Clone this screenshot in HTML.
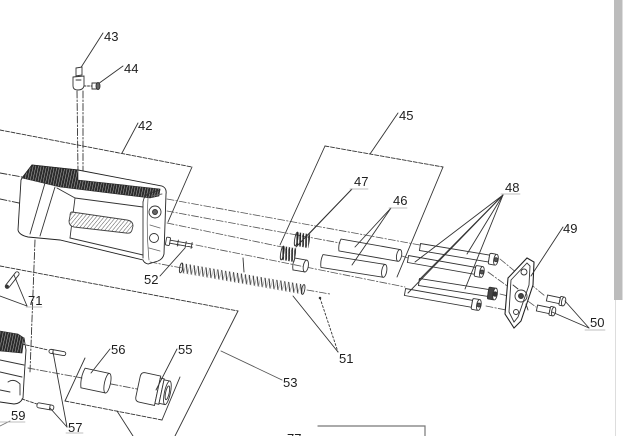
<!DOCTYPE html>
<html><head><meta charset="utf-8">
<style>
html,body{margin:0;padding:0;background:#fff;}
svg{display:block;}
text{font-family:"Liberation Sans",Arial,sans-serif;font-size:13px;fill:#1e1e1e;}
</style></head><body>
<svg width="624" height="436" viewBox="0 0 624 436" xmlns="http://www.w3.org/2000/svg">
<defs>
<pattern id="coil" width="4" height="10" patternUnits="userSpaceOnUse">
 <path d="M0.3,0 L3.3,10" stroke="#222" stroke-width="1" fill="none"/>
 <path d="M3.3,10 L4.3,0" stroke="#888" stroke-width="0.6" fill="none"/>
</pattern>
<pattern id="coil2" width="3" height="14" patternUnits="userSpaceOnUse">
 <path d="M0.3,0 L2.6,14" stroke="#111" stroke-width="1.5" fill="none"/>
</pattern>
<pattern id="ser" width="2.6" height="8" patternUnits="userSpaceOnUse" patternTransform="rotate(12)">
 <rect width="2.6" height="8" fill="#2a2a2a"/>
 <line x1="2" y1="0" x2="2" y2="8" stroke="#bbb" stroke-width="0.5"/>
</pattern>
<pattern id="hatch" width="3" height="3" patternUnits="userSpaceOnUse" patternTransform="rotate(40)">
 <rect width="3" height="3" fill="#fff"/>
 <line x1="0" y1="0" x2="0" y2="3" stroke="#555" stroke-width="1"/>
</pattern>
</defs>

<g fill="none" stroke="#333" stroke-width="0.9" stroke-linecap="round">

<!-- 42 box -->
<path d="M0,130 L192,167" stroke-dasharray="4,1.6"/>
<path d="M192,167 L168,222"/>
<path d="M138,123 L122,153"/>

<!-- 43 / 44 -->
<path d="M103,33 L80,69"/>
<path d="M123,66 L98,84"/>
<path d="M76,68 L82,67 L82,75 L76,76 Z" fill="#fff"/>
<path d="M73,77 L84,76 L84,86 Q83,90 78,90 Q73,90 73,86 Z" fill="#fff"/>
<path d="M76,80 L81,80"/>
<path d="M84,86 L92,86" stroke-dasharray="2,1.5"/>
<path d="M92,83 L97,83 L97,89 L92,89 Z" fill="#fff"/>
<ellipse cx="98" cy="86" rx="2" ry="3.5" fill="#666"/>
<path d="M77,91 L78,172" stroke-dasharray="7,2,1.5,2"/>
<path d="M83,91 L83,172" stroke-dasharray="7,2,1.5,2"/>

<!-- left axis lines -->
<path d="M0,173 L22,177" stroke-dasharray="7,2,1.5,2"/>
<path d="M0,199 L19,203" stroke-dasharray="7,2,1.5,2"/>
<path d="M35,240 L30,372" stroke-dasharray="7,2,1.5,2"/>

<!-- slide body -->
<path d="M22,178 L32,165 L78,170 L162,186 Q167,188 166,194 L164,254 Q163,259 158,261 L148,264 Q144,263 143,260 L60,240 L28,237 Q19,235 18,230 L21,180 Z" fill="#fff" stroke="#222"/>
<path d="M32,165 L78,170 L78,180 L160,189 L159,196 L150,198 L60,187 L22,178 Z" fill="url(#ser)" stroke="#222" stroke-width="0.6"/>
<path d="M143,202 Q144,195 150,193 L160,190"/>
<path d="M143,202 L143,258"/>
<path d="M148,198 Q146,230 149,260" stroke="#555" stroke-width="0.7"/>
<circle cx="155" cy="212" r="6"/>
<circle cx="155" cy="212" r="2.5" fill="#666"/>
<circle cx="154" cy="238" r="4.5"/>
<path d="M150,225 L160,228 M149,248 L160,251 M152,196 L162,194" stroke="#666"/>
<path d="M45,183 L30,234"/>
<path d="M55,187 L40,236"/>
<path d="M57,188 L75,198 L70,238"/>
<path d="M75,198 L143,207"/>
<path d="M70,238 L143,255"/>
<path d="M72,212 L127,220 Q133,221 133,226 L132,230 Q131,234 126,233 L74,227 Q69,226 69,221 L70,216 Q70,212 72,212 Z" fill="url(#hatch)" stroke="#444"/>

<!-- axis fan -->
<g stroke="#555" stroke-dasharray="7,2,1.5,2" stroke-width="0.8">
<path d="M167,199 L420,245"/>
<path d="M167,211 L340,243"/>
<path d="M167,223 L282,247"/>
<path d="M196,245 L405,287"/>
<path d="M150,262 L182,268"/>
<path d="M307,290 L330,294"/>
<path d="M500,259 L545,296"/>
<path d="M488,272 L536,307"/>
<path d="M500,294 L508,296"/>
<path d="M486,306 L506,310"/>
<path d="M402,256 L408,258"/>
</g>

<!-- 52 -->
<g transform="translate(166,241) rotate(10)">
<rect x="0" y="-4" width="4" height="8" rx="1" fill="#fff"/>
<path d="M4,-1.5 L27,-1.5 M4,1.5 L27,1.5 M12,-3 L12,3 M20,-3 L20,3 M26,-3 L26,3"/>
</g>
<path d="M160,276 L185,248"/>

<!-- spring 51 -->
<g transform="translate(182,263) rotate(10)">
<rect x="0" y="0" width="124" height="10" fill="url(#coil)" stroke="none"/>
<ellipse cx="0" cy="5" rx="1.5" ry="5"/>
<ellipse cx="124" cy="5" rx="1.5" ry="5"/>
</g>
<path d="M243,258 L244,272"/>
<path d="M293,296 L338,352"/>
<path d="M320,298 L338,352" stroke-dasharray="2,2"/>
<circle cx="320" cy="298" r="0.8" fill="#333"/>

<!-- springs 47 -->
<g transform="translate(297,232) rotate(10)">
<rect x="0" y="0" width="14" height="14" fill="url(#coil2)" stroke="none"/>
<ellipse cx="0.5" cy="7" rx="1.5" ry="7"/>
</g>
<g transform="translate(283,246) rotate(10)">
<rect x="0" y="0" width="14" height="14" fill="url(#coil2)" stroke="none"/>
<ellipse cx="0.5" cy="7" rx="1.5" ry="7"/>
</g>
<g transform="translate(294,264) rotate(10)">
<path d="M0,-6 L12,-6 M0,6 L12,6"/>
<ellipse cx="12" cy="0" rx="2.5" ry="6" fill="#fff"/>
<path d="M0,-6 Q-2,0 0,6"/>
</g>
<path d="M352,189 L309,234"/>
<path d="M352,189 L296,247"/>

<!-- 45 box -->
<path d="M325,146 L443,167" stroke-dasharray="4,1.6"/>
<path d="M325,146 L280,245"/>
<path d="M443,167 L397,277"/>
<path d="M398,113 L370,154"/>

<!-- tubes 46 -->
<g transform="translate(340,245) rotate(10)">
<path d="M0,-6 L60,-6 M0,6 L60,6 M0,-6 Q-2,0 0,6"/>
<ellipse cx="60" cy="0" rx="2.5" ry="6" fill="#fff"/>
</g>
<g transform="translate(322,261) rotate(9)">
<path d="M0,-6.5 L63,-6.5 M0,6.5 L63,6.5 M0,-6.5 Q-2,0 0,6.5"/>
<ellipse cx="63" cy="0" rx="2.5" ry="6.5" fill="#fff"/>
</g>
<path d="M391,208 L355,247"/>
<path d="M391,208 L352,265"/>

<!-- rods 48 -->
<g transform="translate(420,247) rotate(9.5)">
<rect x="0" y="-3.5" width="70" height="7" fill="#fff"/>
<rect x="70" y="-5.5" width="7" height="11" rx="1.5" fill="#fff"/>
<ellipse cx="77" cy="0" rx="2.2" ry="5.5" fill="#fff"/>
<circle cx="77" cy="0" r="2" fill="#555"/>
</g>
<g transform="translate(408,259) rotate(10)">
<rect x="0" y="-3.5" width="68" height="7" fill="#fff"/>
<rect x="68" y="-5.5" width="7" height="11" rx="1.5" fill="#fff"/>
<ellipse cx="75" cy="0" rx="2.2" ry="5.5" fill="#fff"/>
<circle cx="75" cy="0" r="2" fill="#555"/>
</g>
<g transform="translate(419,282) rotate(9)">
<rect x="0" y="-3.5" width="70" height="7" fill="#fff"/>
<rect x="70" y="-6" width="7" height="12" rx="1.5" fill="#444"/>
<ellipse cx="77" cy="0" rx="2.2" ry="6" fill="#fff"/>
<circle cx="77" cy="0" r="2.2" fill="#333"/>
</g>
<g transform="translate(405,292) rotate(10)">
<rect x="0" y="-3.5" width="68" height="7" fill="#fff"/>
<rect x="68" y="-5.5" width="7" height="11" rx="1.5" fill="#fff"/>
<ellipse cx="75" cy="0" rx="2.2" ry="5.5" fill="#fff"/>
<circle cx="75" cy="0" r="2" fill="#555"/>
</g>
<path d="M503,195 L415,262"/>
<path d="M503,195 L467,254"/>
<path d="M503,195 L419,280"/>
<path d="M503,195 L465,289"/>
<path d="M503,195 L408,293"/>

<!-- plate 49 -->
<path d="M508,278 L527,258 L534,262 L533,285 L521,321 L514,328 L505,314 Z" fill="#fff" stroke="#222" stroke-width="1.1"/>
<path d="M511,280 L527,263 L530,266 L529,285 L518,317 L514,322 L509,312 Z"/>
<circle cx="524" cy="272" r="3"/>
<circle cx="521" cy="296" r="6"/>
<circle cx="521" cy="296" r="2.5" fill="#444"/>
<circle cx="516" cy="312" r="2.5"/>
<path d="M513,285 L518,289 M526,304 L528,310"/>
<path d="M563,227 L531,276"/>

<!-- screws 50 -->
<g transform="translate(547,298) rotate(12)">
<rect x="0" y="-3" width="13" height="6" fill="#fff"/>
<rect x="13" y="-4.5" width="4" height="9" rx="1" fill="#fff"/>
<ellipse cx="17" cy="0" rx="2" ry="4.5" fill="#fff"/>
</g>
<g transform="translate(537,308) rotate(12)">
<rect x="0" y="-3" width="13" height="6" fill="#fff"/>
<rect x="13" y="-4.5" width="4" height="9" rx="1" fill="#fff"/>
<ellipse cx="17" cy="0" rx="2" ry="4.5" fill="#fff"/>
</g>
<path d="M589,328 L565,301"/>
<path d="M589,328 L552,312"/>

<!-- 53 box -->
<path d="M0,266 L238,311" stroke-dasharray="4,1.6"/>
<path d="M238,311 L175,436"/>
<path d="M282,380 L221,351" stroke="#555"/>

<!-- inner box 55/56 -->
<path d="M85,358 L65,401"/>
<path d="M65,401 L162,420" stroke-dasharray="4,1.6"/>
<path d="M162,420 L180,377"/>
<path d="M117,411 L133,436"/>
<path d="M28,368 L82,378" stroke-dasharray="7,2,1.5,2" stroke="#555"/>
<path d="M111,384 L137,389" stroke-dasharray="7,2,1.5,2" stroke="#555"/>
<g transform="translate(83,378) rotate(12)">
<path d="M0,-10 L25,-10 M0,10 L25,10 M0,-10 Q-3,0 0,10"/>
<ellipse cx="25" cy="0" rx="3" ry="10" fill="#fff"/>
</g>
<g transform="translate(140,387) rotate(12)">
<path d="M2,-15 L18,-15 L18,15 L2,15 Q-2,15 -2,10 L-2,-10 Q-2,-15 2,-15 Z" fill="#fff"/>
<rect x="18" y="-13" width="4" height="26" fill="#fff"/>
<rect x="22" y="-12" width="6" height="24" fill="#fff"/>
<ellipse cx="28" cy="0" rx="3" ry="12" fill="#fff"/>
<ellipse cx="28" cy="0" rx="1.8" ry="7"/>
</g>
<path d="M110,349 L91,373"/>
<path d="M177,349 L156,390"/>

<!-- pins 57 -->
<path d="M22,344 L48,350" stroke-dasharray="3,1.5"/>
<path d="M22,399 L37,404" stroke-dasharray="3,1.5"/>
<g transform="translate(49,351) rotate(10)">
<rect x="0" y="-2" width="17" height="4" rx="2" fill="#fff"/>
<path d="M4,-2 L4,2"/>
</g>
<g transform="translate(37,405) rotate(10)">
<rect x="0" y="-2.5" width="17" height="5" rx="2" fill="#fff"/>
<path d="M13,-2.5 L13,2.5"/>
</g>
<path d="M67,427 L53,352"/>
<path d="M67,427 L50,408"/>

<!-- frame 59 -->
<path d="M0,331 L18,334 L24,338 L22,353 L0,351 Z" fill="url(#ser)" stroke="#222" stroke-width="0.6"/>
<path d="M24,338 L26,350 L24,380 L23,398 Q20,404 14,404 L0,402" stroke="#222"/>
<path d="M0,360 L24,365 M0,372 L22,377 M8,382 Q14,378 20,384 L20,395 M0,390 L10,392"/>
<path d="M0,426 L10,421" stroke="#777"/>

<!-- 71 -->
<g transform="translate(6,288) rotate(-52)">
<rect x="0" y="-2" width="20" height="4" rx="2" fill="#fff"/>
<circle cx="2" cy="0" r="1.2" fill="#333"/>
</g>
<path d="M27,306 L14,275"/>
<path d="M27,306 L0,296"/>

<!-- underlines -->
<g stroke="#aaa" stroke-width="0.8">
<path d="M26,307 L42,307"/>
<path d="M0,422 L25,422"/>
<path d="M66,433 L83,433"/>
<path d="M350,189 L368,189"/>
<path d="M389,208 L407,208"/>
<path d="M501,194 L520,194"/>
<path d="M585,330 L605,330"/>
</g>

<!-- bottom box -->
<path d="M318,426 L425,426 L425,436" stroke="#777" stroke-width="1.2"/>
</g>

<!-- scrollbar -->
<rect x="614" y="0" width="8.5" height="300" fill="#bcbcbc"/>
<line x1="615.5" y1="300" x2="615.5" y2="436" stroke="#ddd" stroke-width="1"/>

<!-- labels -->
<text x="104" y="41">43</text>
<text x="124" y="73">44</text>
<text x="138" y="130">42</text>
<text x="399" y="120">45</text>
<text x="354" y="186">47</text>
<text x="393" y="205">46</text>
<text x="505" y="192">48</text>
<text x="563" y="233">49</text>
<text x="590" y="327">50</text>
<text x="339" y="363">51</text>
<text x="144" y="284">52</text>
<text x="28" y="305">71</text>
<text x="111" y="354">56</text>
<text x="178" y="354">55</text>
<text x="283" y="387">53</text>
<text x="11" y="420">59</text>
<text x="68" y="432">57</text>
<text x="287" y="443">77</text>
</svg>
</body></html>
